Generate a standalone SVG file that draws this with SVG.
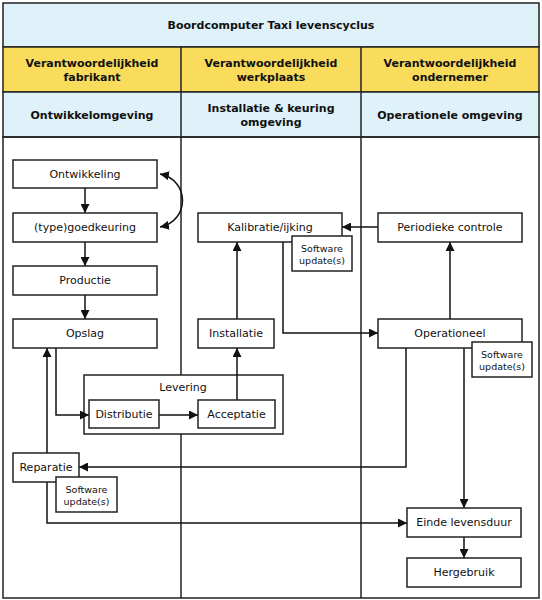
<svg xmlns="http://www.w3.org/2000/svg" width="542" height="600" viewBox="0 0 542 600">
<defs>
<marker id="ah" viewBox="0 0 10 10" refX="10" refY="5" markerWidth="9" markerHeight="9" markerUnits="userSpaceOnUse" orient="auto-start-reverse"><path d="M0,0 L10,5 L0,10 z" fill="#111"/></marker>
<style>
.hdr{font-family:"DejaVu Sans",Verdana,sans-serif;font-weight:bold;font-size:11px;fill:#111;text-anchor:middle}
.t{font-family:"DejaVu Sans",Verdana,sans-serif;font-size:11px;fill:#111;text-anchor:middle}
.s{font-family:"DejaVu Sans",Verdana,sans-serif;font-size:9.5px;fill:#111;text-anchor:middle}
.b{fill:#fff;stroke:#222;stroke-width:1.5}
.c{fill:none;stroke:#111;stroke-width:1.5}
.g{stroke:#222;stroke-width:1.5}
</style>
</defs>
<rect width="542" height="600" fill="#fff"/>
<g id="header">
<rect x="3" y="3" width="536" height="44" fill="#dff1f9" class="g"/>
<rect x="3" y="47" width="536" height="45" fill="#f9dc5c" class="g"/>
<rect x="3" y="92" width="536" height="45" fill="#dff1f9" class="g"/>
<text class="hdr" x="271" y="29">Boordcomputer Taxi levenscyclus</text>
<text class="hdr" x="92" y="67">Verantwoordelijkheid</text>
<text class="hdr" x="92" y="81">fabrikant</text>
<text class="hdr" x="271" y="67">Verantwoordelijkheid</text>
<text class="hdr" x="271" y="81">werkplaats</text>
<text class="hdr" x="450" y="67">Verantwoordelijkheid</text>
<text class="hdr" x="450" y="81">ondernemer</text>
<text class="hdr" x="92" y="119">Ontwikkelomgeving</text>
<text class="hdr" x="271" y="112">Installatie &amp; keuring</text>
<text class="hdr" x="271" y="126">omgeving</text>
<text class="hdr" x="450" y="119">Operationele omgeving</text>
</g>
<g id="lanes">
<rect x="3" y="137" width="536" height="461" fill="none" class="g"/>
<line x1="181" y1="47" x2="181" y2="598" class="g"/>
<line x1="361" y1="47" x2="361" y2="598" class="g"/>
</g>
<g id="levering"><rect x="84" y="375" width="199" height="59" class="b"/><text class="t" x="183" y="391">Levering</text></g>
<g id="connectors">
<path class="c" d="M160,174 C190,180 190,221 160,227" marker-start="url(#ah)" marker-end="url(#ah)"/>
<line class="c" x1="85" y1="188" x2="85" y2="213" marker-end="url(#ah)"/>
<line class="c" x1="85" y1="242" x2="85" y2="266" marker-end="url(#ah)"/>
<line class="c" x1="85" y1="295" x2="85" y2="319" marker-end="url(#ah)"/>
<polyline class="c" points="56,348 56,415 89,415" marker-end="url(#ah)"/>
<line class="c" x1="159" y1="415" x2="198" y2="415" marker-end="url(#ah)"/>
<line class="c" x1="237" y1="400" x2="237" y2="348" marker-end="url(#ah)"/>
<line class="c" x1="237" y1="319" x2="237" y2="242" marker-end="url(#ah)"/>
<line class="c" x1="378" y1="227" x2="342" y2="227" marker-end="url(#ah)"/>
<polyline class="c" points="283,242 283,333 378,333" marker-end="url(#ah)"/>
<line class="c" x1="450" y1="319" x2="450" y2="242" marker-end="url(#ah)"/>
<polyline class="c" points="406,348 406,467 79,467" marker-end="url(#ah)"/>
<line class="c" x1="47" y1="453" x2="47" y2="348" marker-end="url(#ah)"/>
<polyline class="c" points="47,482 47,523 407,523" marker-end="url(#ah)"/>
<line class="c" x1="464" y1="348" x2="464" y2="508" marker-end="url(#ah)"/>
<line class="c" x1="464" y1="537" x2="464" y2="558" marker-end="url(#ah)"/>
</g>
<g id="ontwikkeling"><rect x="13" y="160" width="144" height="28" class="b"/><text class="t" x="85" y="178">Ontwikkeling</text></g>
<g id="goedkeuring"><rect x="13" y="213" width="144" height="29" class="b"/><text class="t" x="85" y="231">(type)goedkeuring</text></g>
<g id="productie"><rect x="13" y="266" width="144" height="29" class="b"/><text class="t" x="85" y="284">Productie</text></g>
<g id="opslag"><rect x="13" y="319" width="144" height="29" class="b"/><text class="t" x="85" y="337">Opslag</text></g>
<g id="distributie"><rect x="89" y="400" width="70" height="28" class="b"/><text class="t" x="124" y="418">Distributie</text></g>
<g id="acceptatie"><rect x="198" y="400" width="77" height="28" class="b"/><text class="t" x="236.5" y="418">Acceptatie</text></g>
<g id="installatie"><rect x="198" y="319" width="76" height="29" class="b"/><text class="t" x="236" y="337">Installatie</text></g>
<g id="kalibratie"><rect x="198" y="213" width="144" height="29" class="b"/><text class="t" x="270" y="231">Kalibratie/ijking</text></g>
<g id="sw1"><rect x="292" y="236" width="60" height="35" class="b"/><text class="s" x="322" y="252">Software</text><text class="s" x="322" y="264">update(s)</text></g>
<g id="periodieke"><rect x="378" y="213" width="144" height="29" class="b"/><text class="t" x="450" y="231">Periodieke controle</text></g>
<g id="operationeel"><rect x="378" y="319" width="144" height="29" class="b"/><text class="t" x="450" y="337">Operationeel</text></g>
<g id="sw2"><rect x="472" y="342" width="60" height="35" class="b"/><text class="s" x="502" y="358">Software</text><text class="s" x="502" y="370">update(s)</text></g>
<g id="reparatie"><rect x="13" y="453" width="66" height="29" class="b"/><text class="t" x="46" y="471">Reparatie</text></g>
<g id="sw3"><rect x="56" y="477" width="61" height="35" class="b"/><text class="s" x="86.5" y="493">Software</text><text class="s" x="86.5" y="505">update(s)</text></g>
<g id="einde"><rect x="407" y="508" width="114" height="29" class="b"/><text class="t" x="464" y="526">Einde levensduur</text></g>
<g id="hergebruik"><rect x="407" y="558" width="114" height="29" class="b"/><text class="t" x="464" y="576">Hergebruik</text></g>
</svg>
